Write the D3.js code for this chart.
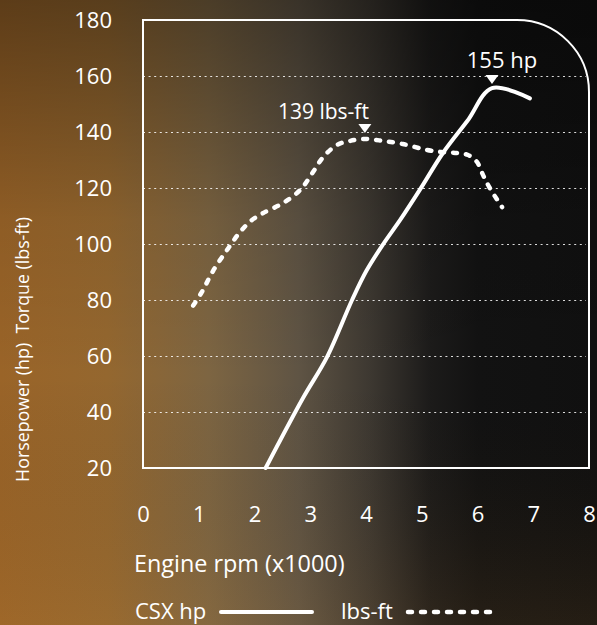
<!DOCTYPE html>
<html>
<head>
<meta charset="utf-8">
<script src="https://cdn.jsdelivr.net/npm/d3@7"></script>
<style>
  html, body { margin: 0; padding: 0; background: #111; }
  svg { display: block; }
  text { font-family: "Open Sans", "Noto Sans", sans-serif; fill: #fff; }
</style>
</head>
<body>
<svg id="chart" width="597" height="625"></svg>
<script>
// ---- data ----
const xTicks = [0, 1, 2, 3, 4, 5, 6, 7, 8];
const yTicks = [20, 40, 60, 80, 100, 120, 140, 160, 180];
const gridValues = [40, 60, 80, 100, 120, 140, 160];

const hpRpm    = [2.2, 2.87, 3.3, 3.75, 4.01, 4.31, 4.61, 4.97, 5.38, 5.82, 6.26, 6.94];
const hpValues = [20, 45, 59.6, 80, 90.5, 100, 108.5, 119.5, 132.5, 144, 155.7, 152];

const tqRpm    = [0.9, 1.06, 1.26, 1.53, 1.75, 1.95, 2.15, 2.51, 2.82, 3.05, 3.23, 3.48, 3.71, 3.98, 4.31, 4.66, 5.09, 5.38, 5.63, 5.83, 5.99, 6.1, 6.22, 6.44];
const tqValues = [78, 83, 90.5, 98.5, 104.5, 108.5, 111, 114.6, 119.3, 125.7, 131, 135.4, 136.8, 137.5, 136.8, 135.7, 133.6, 132.8, 132.5, 131.8, 129.3, 124.6, 120, 113.2];

const hpPeakLabel = "155 hp";
const tqPeakLabel = "139 lbs-ft";
const hpPeakIndex = 10;
const tqPeakIndex = 13;

const xLabel = "Engine rpm (x1000)";
const yLabel = "Horsepower (hp)  Torque (lbs-ft)";
const legendNames = ["CSX hp", "lbs-ft"];

// ---- drawing ----
const svg = d3.select("#chart");
const W = 597, H = 625;
const defs = svg.append("defs");

const hg = defs.append("linearGradient").attr("id", "bgH").attr("x1", 0).attr("x2", 1).attr("y1", 0).attr("y2", 0);
[[0, "#9a6428"], [0.18, "#94672f"], [0.35, "#7d6542"], [0.5, "#5f5444"], [0.62, "#3d3831"], [0.72, "#1c1b1a"], [0.8, "#121212"], [1, "#101010"]]
  .forEach(([o, c]) => hg.append("stop").attr("offset", o).attr("stop-color", c));

const vg = defs.append("linearGradient").attr("id", "bgV").attr("x1", 0).attr("x2", 0).attr("y1", 0).attr("y2", 1);
[[0, "#000", 0.4], [0.35, "#000", 0.08], [0.6, "#000", 0], [1, "#c08030", 0.12]]
  .forEach(([o, c, a]) => vg.append("stop").attr("offset", o).attr("stop-color", c).attr("stop-opacity", a));

svg.append("rect").attr("width", W).attr("height", H).attr("fill", "url(#bgH)");
svg.append("rect").attr("width", W).attr("height", H).attr("fill", "url(#bgV)");

const x = d3.scaleLinear().domain([0, 8]).range([143, 589]);
const y = d3.scaleLinear().domain([20, 180]).range([468, 20]);

// grid lines
const grid = svg.append("g").attr("transform", `translate(${x(0)},0)`)
  .call(d3.axisLeft(y).tickValues(gridValues).tickSize(-(x(8) - x(0) - 3)).tickFormat(""));
grid.select(".domain").remove();
grid.selectAll("line").attr("stroke", "#fff").attr("stroke-width", 1.1).attr("stroke-dasharray", "2,3.6").attr("opacity", 0.85);

// frame with rounded top-right corner
const r = 72;
const fx0 = x(0), fx1 = x(8), fy0 = y(180), fy1 = y(20);
svg.append("path")
  .attr("d", `M${fx0},${fy1} V${fy0} H${fx1 - r} A${r},${r} 0 0 1 ${fx1},${fy0 + r} V${fy1} Z`)
  .attr("fill", "none").attr("stroke", "#fff").attr("stroke-width", 2);

// y tick labels
const yAx = svg.append("g").attr("transform", `translate(${x(0)},0)`)
  .call(d3.axisLeft(y).tickValues(yTicks).tickSize(0).tickPadding(31));
yAx.select(".domain").remove();
yAx.selectAll("text").attr("font-size", 22).attr("fill", "#fff").style("font-family", "'Open Sans'");

// x tick labels
const xAx = svg.append("g").attr("transform", `translate(0,${y(20)})`)
  .call(d3.axisBottom(x).tickValues(xTicks).tickSize(0).tickPadding(38).tickFormat(d3.format("d")));
xAx.select(".domain").remove();
xAx.selectAll("text").attr("font-size", 22).attr("fill", "#fff").style("font-family", "'Open Sans'");

// axis titles
svg.append("text").attr("x", 134).attr("y", 572).attr("font-size", 23.4).text(xLabel);
svg.append("text").attr("transform", "translate(28.5,349.5) rotate(-90)").attr("text-anchor", "middle")
  .attr("font-size", 17.8).style("white-space", "pre").attr("xml:space", "preserve").text(yLabel);

// series
const line = d3.line().x(d => x(d[0])).y(d => y(d[1])).curve(d3.curveCatmullRom.alpha(0.5));
const tqData = tqRpm.map((v, i) => [v, tqValues[i]]);
const hpData = hpRpm.map((v, i) => [v, hpValues[i]]);

svg.append("path").datum(tqData).attr("d", line)
  .attr("fill", "none").attr("stroke", "#fff").attr("stroke-width", 4.5)
  .attr("stroke-linecap", "round").attr("stroke-dasharray", "4,9");

svg.append("path").datum(hpData).attr("d", line)
  .attr("fill", "none").attr("stroke", "#fff").attr("stroke-width", 4)
  .attr("stroke-linecap", "round").attr("stroke-linejoin", "round");

// peak markers
function tri(cx, apexY) {
  return `M${cx - 6.5},${apexY - 9} L${cx + 6.5},${apexY - 9} L${cx},${apexY} Z`;
}
const hpPx = x(hpRpm[hpPeakIndex]), hpPy = y(hpValues[hpPeakIndex]);
svg.append("path").attr("d", tri(hpPx, hpPy - 4)).attr("fill", "#fff");
svg.append("text").attr("x", hpPx + 10).attr("y", hpPy - 20).attr("text-anchor", "middle")
  .attr("font-size", 22).text(hpPeakLabel);

const tqPx = x(tqRpm[tqPeakIndex]), tqPy = y(tqValues[tqPeakIndex]);
svg.append("path").attr("d", tri(tqPx, tqPy - 6)).attr("fill", "#fff");
svg.append("text").attr("x", tqPx + 4).attr("y", tqPy - 20).attr("text-anchor", "end")
  .attr("font-size", 21).text(tqPeakLabel);

// legend
svg.append("text").attr("x", 135).attr("y", 619).attr("font-size", 22).text(legendNames[0]);
svg.append("line").attr("x1", 221).attr("x2", 312).attr("y1", 612).attr("y2", 612)
  .attr("stroke", "#fff").attr("stroke-width", 4).attr("stroke-linecap", "round");
svg.append("text").attr("x", 341).attr("y", 619).attr("font-size", 22).text(legendNames[1]);
svg.append("line").attr("x1", 408).attr("x2", 490).attr("y1", 612).attr("y2", 612)
  .attr("stroke", "#fff").attr("stroke-width", 4.5).attr("stroke-linecap", "round").attr("stroke-dasharray", "4,9");
</script>
</body>
</html>
